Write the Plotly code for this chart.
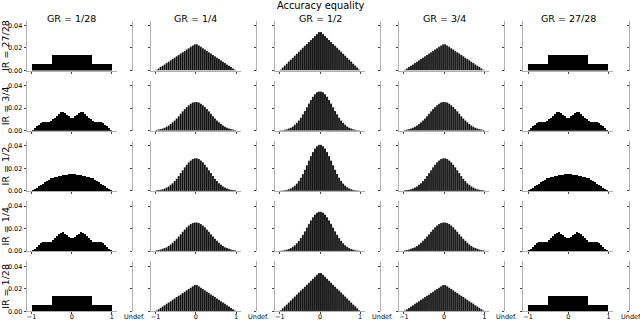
import plotly.graph_objects as go

# histogram bin centres on [-1, 1], width 0.05
BIN_WIDTH = 0.05
BIN_CENTERS = [round(-0.975 + BIN_WIDTH * i, 3) for i in range(40)]

COLUMN_TITLES = ["GR = 1/28", "GR = 1/4", "GR = 1/2", "GR = 3/4", "GR = 27/28"]
ROW_TITLES = ["IR = 27/28", "IR = 3/4", "IR = 1/2", "IR = 1/4", "IR = 1/28"]
X_TICK_VALS = [-1, 0, 1]
X_TICK_TEXT = ["\u22121", "0", "1"]
Y_TICK_VALS = [0.0, 0.02, 0.04]
Y_TICK_TEXT = ["0.00", "0.02", "0.04"]
UNDEF_LABEL = "Undef."
UNDEF_VALUE = [0.0]

# GR extreme, IR extreme
STEP_HIST = [
    0.0058, 0.006, 0.006, 0.006, 0.006, 0.006, 0.006, 0.006, 0.006, 0.006,
    0.014, 0.014, 0.014, 0.014, 0.014, 0.014, 0.014, 0.014, 0.014, 0.014,
    0.014, 0.014, 0.014, 0.014, 0.014, 0.014, 0.014, 0.014, 0.014, 0.014,
    0.006, 0.006, 0.006, 0.006, 0.006, 0.006, 0.006, 0.006, 0.006, 0.0058,
]
# GR extreme, IR 3/4 and 1/4
TWIN_PEAK_HIST = [
    0.0008, 0.0023, 0.0039, 0.0054, 0.0069, 0.0077, 0.0077, 0.0077, 0.0077, 0.0085,
    0.0101, 0.0116, 0.0132, 0.0148, 0.0164, 0.0166, 0.0153, 0.0140, 0.0127, 0.0114,
    0.0114, 0.0127, 0.0140, 0.0153, 0.0166, 0.0164, 0.0148, 0.0132, 0.0116, 0.0101,
    0.0085, 0.0077, 0.0077, 0.0077, 0.0077, 0.0069, 0.0054, 0.0039, 0.0023, 0.0008,
]
# GR extreme, IR 1/2
HUMP_HIST = [
    0.0006, 0.0018, 0.0029, 0.0041, 0.0053, 0.0064, 0.0076, 0.0088, 0.0100, 0.0111,
    0.0119, 0.0122, 0.0126, 0.0130, 0.0133, 0.0137, 0.0140, 0.0144, 0.0148, 0.0151,
    0.0151, 0.0148, 0.0144, 0.0140, 0.0137, 0.0133, 0.0130, 0.0126, 0.0122, 0.0119,
    0.0111, 0.0100, 0.0088, 0.0076, 0.0064, 0.0053, 0.0041, 0.0029, 0.0018, 0.0006,
]
# GR 1/4 and 3/4
QUARTER_TRIANGLE = [
    0.0006, 0.0018, 0.0030, 0.0042, 0.0054, 0.0066, 0.0078, 0.0090, 0.0102, 0.0114,
    0.0126, 0.0138, 0.0150, 0.0162, 0.0174, 0.0186, 0.0198, 0.0210, 0.0222, 0.0234,
    0.0234, 0.0222, 0.0210, 0.0198, 0.0186, 0.0174, 0.0162, 0.0150, 0.0138, 0.0126,
    0.0114, 0.0102, 0.0090, 0.0078, 0.0066, 0.0054, 0.0042, 0.0030, 0.0018, 0.0006,
]
QUARTER_BELL = [
    0.0007, 0.0010, 0.0014, 0.0020, 0.0027, 0.0035, 0.0046, 0.0059, 0.0074, 0.0091,
    0.0109, 0.0129, 0.0150, 0.0172, 0.0192, 0.0211, 0.0227, 0.0240, 0.0250, 0.0254,
    0.0254, 0.0250, 0.0240, 0.0227, 0.0211, 0.0192, 0.0172, 0.0150, 0.0129, 0.0109,
    0.0091, 0.0074, 0.0059, 0.0046, 0.0035, 0.0027, 0.0020, 0.0014, 0.0010, 0.0007,
]
QUARTER_MID = [
    0.0005, 0.0007, 0.0011, 0.0015, 0.0022, 0.0030, 0.0040, 0.0054, 0.0069, 0.0088,
    0.0109, 0.0133, 0.0158, 0.0184, 0.0209, 0.0233, 0.0254, 0.0271, 0.0283, 0.0289,
    0.0289, 0.0283, 0.0271, 0.0254, 0.0233, 0.0209, 0.0184, 0.0158, 0.0133, 0.0109,
    0.0088, 0.0069, 0.0054, 0.0040, 0.0030, 0.0022, 0.0015, 0.0011, 0.0007, 0.0005,
]
# GR 1/2
HALF_TRIANGLE = [
    0.0009, 0.0026, 0.0044, 0.0061, 0.0079, 0.0096, 0.0114, 0.0131, 0.0149, 0.0166,
    0.0184, 0.0201, 0.0219, 0.0236, 0.0254, 0.0271, 0.0289, 0.0306, 0.0324, 0.0341,
    0.0341, 0.0324, 0.0306, 0.0289, 0.0271, 0.0254, 0.0236, 0.0219, 0.0201, 0.0184,
    0.0166, 0.0149, 0.0131, 0.0114, 0.0096, 0.0079, 0.0061, 0.0044, 0.0026, 0.0009,
]
HALF_BELL = [
    0.0003, 0.0005, 0.0008, 0.0013, 0.0019, 0.0027, 0.0038, 0.0052, 0.0070, 0.0091,
    0.0116, 0.0145, 0.0176, 0.0209, 0.0242, 0.0273, 0.0301, 0.0324, 0.0341, 0.0349,
    0.0349, 0.0341, 0.0324, 0.0301, 0.0273, 0.0242, 0.0209, 0.0176, 0.0145, 0.0116,
    0.0091, 0.0070, 0.0052, 0.0038, 0.0027, 0.0019, 0.0013, 0.0008, 0.0005, 0.0003,
]
HALF_MID = [
    0.0002, 0.0004, 0.0006, 0.0009, 0.0015, 0.0022, 0.0033, 0.0047, 0.0065, 0.0089,
    0.0117, 0.0150, 0.0188, 0.0228, 0.0269, 0.0309, 0.0346, 0.0376, 0.0397, 0.0409,
    0.0409, 0.0397, 0.0376, 0.0346, 0.0309, 0.0269, 0.0228, 0.0188, 0.0150, 0.0117,
    0.0089, 0.0065, 0.0047, 0.0033, 0.0022, 0.0015, 0.0009, 0.0006, 0.0004, 0.0002,
]

GRID = [
    [STEP_HIST, QUARTER_TRIANGLE, HALF_TRIANGLE, QUARTER_TRIANGLE, STEP_HIST],
    [TWIN_PEAK_HIST, QUARTER_BELL, HALF_BELL, QUARTER_BELL, TWIN_PEAK_HIST],
    [HUMP_HIST, QUARTER_MID, HALF_MID, QUARTER_MID, HUMP_HIST],
    [TWIN_PEAK_HIST, QUARTER_BELL, HALF_BELL, QUARTER_BELL, TWIN_PEAK_HIST],
    [STEP_HIST, QUARTER_TRIANGLE, HALF_TRIANGLE, QUARTER_TRIANGLE, STEP_HIST],
]
COARSE = {id(STEP_HIST), id(TWIN_PEAK_HIST), id(HUMP_HIST)}

W, H = 640, 320
FONT = "DejaVu Sans"
SPINE = "#b0b0b0"
TICK = "#444444"
LABEL = "#000000"


def ax_key(kind, n):
    return kind + "axis" + ("" if n == 1 else str(n))


def ax_ref(kind, n):
    return kind + ("" if n == 1 else str(n))


fig = go.Figure()
layout = {}
annotations = []

for r in range(5):
    y_bot = 70.5 + 60.2 * r
    y_dom = [1 - y_bot / H, 1 - (y_bot - 50) / H]
    for c in range(5):
        left = 26.7 + 124.15 * c
        n = 2 * (r * 5 + c) + 1
        vals = GRID[r][c]
        coarse = id(vals) in COARSE

        fig.add_trace(go.Bar(
            x=BIN_CENTERS, y=vals, width=BIN_WIDTH,
            marker=dict(color="black",
                        line=dict(color="white", width=0 if coarse else 0.2)),
            xaxis=ax_ref("x", n), yaxis=ax_ref("y", n),
            showlegend=False, hoverinfo="skip",
        ))
        fig.add_trace(go.Bar(
            x=[0], y=UNDEF_VALUE, width=0.5, marker_color="black",
            xaxis=ax_ref("x", n + 1), yaxis=ax_ref("y", n + 1),
            showlegend=False, hoverinfo="skip",
        ))

        common_y = dict(
            domain=y_dom, range=[0, 0.0444], tickvals=Y_TICK_VALS, ticktext=Y_TICK_TEXT,
            showline=True, linecolor=SPINE, linewidth=1, ticks="outside", ticklen=2,
            tickcolor=TICK, tickwidth=1, showgrid=False, zeroline=False, automargin=False,
            tickfont=dict(size=6.5, color=LABEL, family=FONT), fixedrange=True,
        )
        layout[ax_key("x", n)] = dict(
            domain=[left / W, (left + 90) / W], anchor=ax_ref("y", n),
            range=[-1.12, 1.12], tickvals=X_TICK_VALS, ticktext=X_TICK_TEXT,
            showticklabels=(r == 4), showline=True, linecolor=SPINE, linewidth=1,
            ticks="outside", ticklen=2, tickcolor=TICK, showgrid=False, zeroline=False,
            automargin=False, ticklabelstandoff=-3,
            tickfont=dict(size=6.5, color=LABEL, family=FONT), fixedrange=True,
        )
        layout[ax_key("y", n)] = dict(common_y, anchor=ax_ref("x", n), showticklabels=(c == 0))

        u_left = left + 106.3
        layout[ax_key("x", n + 1)] = dict(
            domain=[u_left / W, (u_left + 3) / W], anchor=ax_ref("y", n + 1),
            range=[-0.5, 0.5], showticklabels=False, showline=False, ticks="",
            showgrid=False, zeroline=False, automargin=False, fixedrange=True,
        )
        layout[ax_key("y", n + 1)] = dict(common_y, anchor=ax_ref("x", n + 1), showticklabels=False)

        if r == 4:
            # label of the single "undefined" bin under the narrow side panel
            annotations.append(dict(
                x=0, y=0, xref=ax_ref("x", n + 1), yref=ax_ref("y", n + 1),
                text=UNDEF_LABEL, showarrow=False, xanchor="center", yanchor="top",
                yshift=0, font=dict(size=6.5, color=LABEL, family=FONT),
            ))
        if r == 0:
            annotations.append(dict(
                x=(left + 45) / W, y=1 - 18 / H, xref="paper", yref="paper",
                text=COLUMN_TITLES[c], showarrow=False, xanchor="center", yanchor="middle",
                font=dict(size=9.5, color="black", family=FONT),
            ))
    annotations.append(dict(
        x=5.5 / W, y=1 - (y_bot - 25) / H, xref="paper", yref="paper",
        text=ROW_TITLES[r], showarrow=False, textangle=-90, xanchor="center", yanchor="middle",
        font=dict(size=9.5, color="black", family=FONT),
    ))

annotations.append(dict(
    x=321 / W, y=1 - 5.5 / H, xref="paper", yref="paper", text="Accuracy equality",
    showarrow=False, xanchor="center", yanchor="middle",
    font=dict(size=9.8, color="black", family=FONT),
))

fig.update_layout(
    **layout,
    annotations=annotations,
    width=W, height=H,
    margin=dict(l=0, r=0, t=0, b=0, autoexpand=False),
    paper_bgcolor="white", plot_bgcolor="white",
    bargap=0, showlegend=False, hovermode=False,
    font=dict(family=FONT),
)

# page body has a default 8px margin; drop it so the figure sits at the window corner
fig.write_html(
    "out.html",
    config={"displayModeBar": False, "staticPlot": True},
    post_script="document.body.style.margin = '0';",
)
